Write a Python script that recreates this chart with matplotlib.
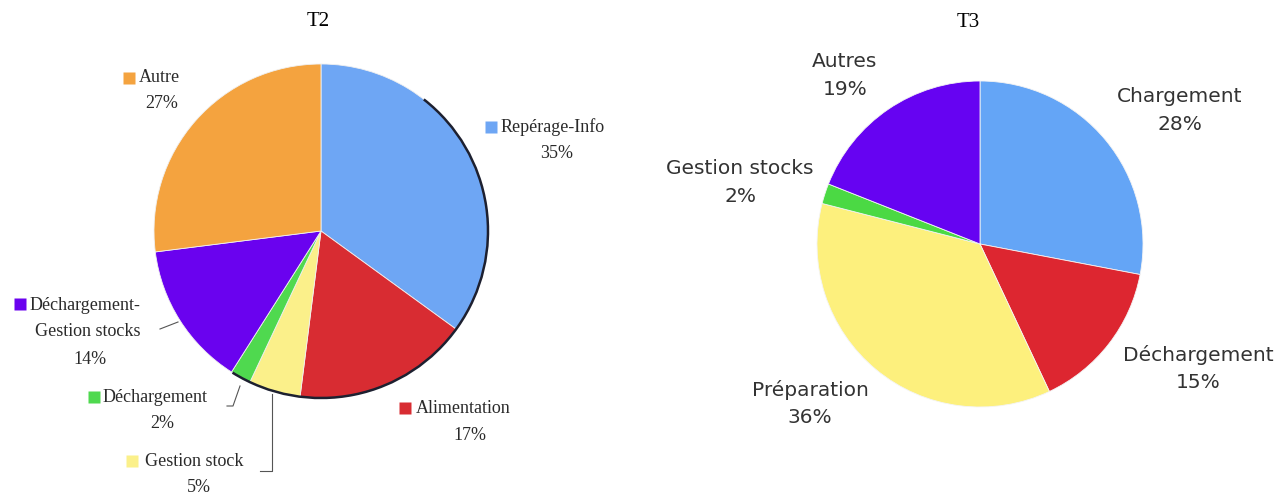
import numpy as np
import matplotlib.pyplot as plt
from matplotlib.patches import Arc

# T2 breakdown (clockwise from 12 o'clock)
t2_labels = ["Repérage-Info", "Alimentation", "Gestion stock", "Déchargement",
             "Déchargement-\nGestion stocks", "Autre"]
t2_values = [35, 17, 5, 2, 14, 27]
t2_colors = ["#6ea6f4", "#d82c32", "#fbf08a", "#4fd94f", "#6a02ef", "#f4a33f"]

# T3 breakdown (clockwise from 12 o'clock)
t3_labels = ["Chargement", "Déchargement", "Préparation", "Gestion stocks", "Autres"]
t3_values = [28, 15, 36, 2, 19]
t3_colors = ["#64a5f6", "#dd2630", "#fdf07d", "#4bd944", "#6603f2"]

W, H = 1276, 494
fig = plt.figure(figsize=(W / 100, H / 100), dpi=100)
ax = fig.add_axes([0, 0, 1, 1])


def Y(y):
    # pixel rows run downward, data y runs upward
    return H - y


# ---- T2 ----
c2 = (321, Y(231))
r2 = 167
ax.pie(t2_values, colors=t2_colors, startangle=90, counterclock=False,
       center=c2, radius=r2, wedgeprops=dict(linewidth=0.6, edgecolor="#f0f0f0"))
ax.add_patch(Arc(c2, 2 * r2, 2 * r2, theta1=-122, theta2=52,
                 color="#1d2030", lw=1.8, zorder=3))

serif = dict(family="Liberation Serif", color="#2a2a2a", fontsize=13)
ax.text(318, Y(22), "T2", ha="center", va="center", family="Liberation Serif",
        fontsize=15, color="black")

t2_text = {
    # label: (square x, text x, y, pct x, pct y)
    "Autre": (128.5, 139, 78, 162, 104),
    "Repérage-Info": (491, 501, 127, 557, 153),
    "Alimentation": (405, 416, 408, 470, 435),
    "Gestion stock": (132, 145, 461, 199, 487),
    "Déchargement": (94, 103, 397, 162, 423),
}
for lab, val, col in zip(t2_labels, t2_values, t2_colors):
    if lab in t2_text:
        sx, tx, ty, px, py = t2_text[lab]
        ax.plot(sx, Y(ty), marker="s", ms=8.5, color=col, mec="none")
        ax.text(tx, Y(ty), lab, ha="left", va="center", **serif)
        ax.text(px, Y(py), f"{val}%", ha="center", va="center", **serif)
    else:
        ax.plot(19.5, Y(304), marker="s", ms=8.5, color=col, mec="none")
        ax.text(30, Y(305), "Déchargement-", ha="left", va="center", **serif)
        ax.text(88, Y(332), "Gestion stocks", ha="center", va="center", **serif)
        ax.text(90, Y(359), f"{val}%", ha="center", va="center", **serif)

# leader lines for the small slices
lc = dict(color="#555555", lw=0.8)
ax.plot([160, 178], [Y(329), Y(322)], **lc)
ax.plot([227, 233, 240], [Y(406), Y(406), Y(386)], **lc)
ax.plot([260, 272, 272], [Y(471), Y(471), Y(394)], **lc)

# ---- T3 ----
c3 = (980, Y(244))
r3 = 163
ax.pie(t3_values, colors=t3_colors, startangle=90, counterclock=False,
       center=c3, radius=r3, wedgeprops=dict(linewidth=0.6, edgecolor="#f4f4f4"))

sans = dict(family="DejaVu Sans", color="#333333", fontsize=14.5, ha="center", va="center")
ax.text(968, Y(23), "T3", ha="center", va="center", family="Liberation Serif",
        fontsize=15, color="black")
t3_pos = {
    "Autres": (845, 62, 90),
    "Chargement": (1180, 97, 125),
    "Gestion stocks": (740, 168, 197),
    "Déchargement": (1198, 355, 383),
    "Préparation": (810, 390, 417),
}
for lab, val in zip(t3_labels, t3_values):
    x, y1, y2 = t3_pos[lab]
    ax.text(x, Y(y1), lab, **sans)
    ax.text(x, Y(y2), f"{val}%", **sans)

ax.set_xlim(0, W)
ax.set_ylim(0, H)
ax.set_aspect("auto")
ax.axis("off")
fig.savefig("out.png", dpi=100)
